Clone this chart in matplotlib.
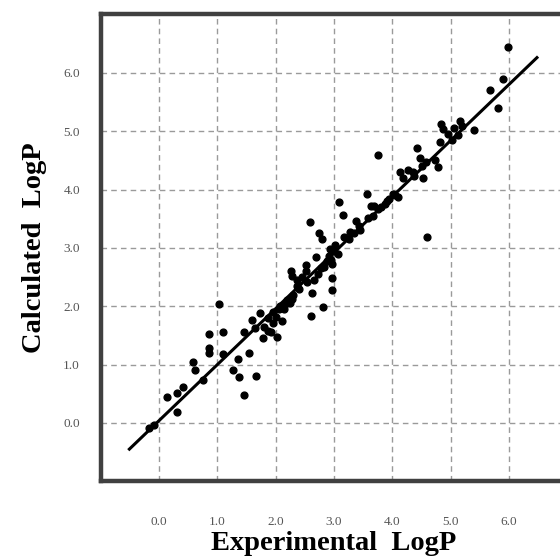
import numpy as np
import matplotlib.pyplot as plt

plt.rcParams['font.family'] = ['Liberation Serif', 'DejaVu Serif']

# experimental vs calculated logP
exp_logp = [
    -0.18, -0.08, 0.14, 0.31, 0.41, 0.30, 0.58, 0.62, 0.76, 0.86,
    1.02, 1.10, 0.86, 0.86, 1.10, 1.35, 1.27, 1.37, 1.45, 1.55,
    1.66, 1.45, 1.59, 1.73, 1.87, 1.87, 2.02, 1.78, 1.96, 2.10,
    2.07, 2.19, 2.28, 1.64, 1.92, 2.61, 2.81, 2.62, 2.97, 2.27,
    2.28, 2.37, 2.36, 2.52, 2.53, 2.69, 2.72, 2.83, 2.97, 2.97,
    2.66, 2.78, 2.58, 2.75, 2.79, 2.93, 2.92, 3.06, 3.17, 3.28,
    3.42, 3.08, 3.15, 3.38, 3.57, 3.69, 3.76, 4.43, 4.47, 4.58,
    4.13, 4.27, 4.18, 4.37, 4.53, 4.01, 4.10, 3.95, 3.87, 3.75,
    3.64, 3.66, 3.58, 4.73, 4.79, 4.84, 4.87, 5.16, 5.19, 5.40,
    5.13, 5.02, 4.82, 5.68, 5.99, 5.90, 5.82, 4.60, 1.95, 2.05,
    2.12, 2.20, 2.25, 2.15, 2.00, 2.30, 2.88, 3.00, 3.02, 2.95,
    3.25, 3.35, 3.45, 3.80, 3.90, 4.05, 4.35, 4.50, 4.95, 5.05,
    2.52, 2.40, 1.80, 2.45,
]
calc_logp = [
    -0.08, -0.03, 0.45, 0.52, 0.61, 0.19, 1.04, 0.91, 0.74, 1.52,
    2.03, 1.56, 1.29, 1.20, 1.18, 1.10, 0.91, 0.79, 0.47, 1.19,
    0.80, 1.56, 1.77, 1.88, 1.79, 1.57, 1.48, 1.45, 1.71, 1.74,
    2.00, 2.06, 2.12, 1.62, 1.56, 1.83, 1.99, 2.22, 2.27, 2.60,
    2.51, 2.45, 2.34, 2.70, 2.41, 2.85, 2.56, 2.68, 2.73, 2.48,
    2.45, 2.65, 3.45, 3.25, 3.16, 2.98, 2.86, 2.90, 3.19, 3.27,
    3.38, 3.79, 3.57, 3.46, 3.93, 3.71, 4.60, 4.72, 4.54, 4.48,
    4.30, 4.33, 4.20, 4.23, 4.19, 3.92, 3.87, 3.84, 3.75, 3.66,
    3.72, 3.55, 3.52, 4.50, 4.38, 5.12, 5.03, 5.18, 5.09, 5.02,
    4.94, 4.85, 4.82, 5.71, 6.45, 5.90, 5.40, 3.19, 1.90, 1.95,
    2.02, 2.10, 2.05, 1.95, 1.82, 2.20, 2.78, 2.95, 3.05, 2.80,
    3.15, 3.25, 3.30, 3.70, 3.80, 3.90, 4.30, 4.40, 4.95, 5.05,
    2.60, 2.30, 1.65, 2.50,
]

# regression line
slope, intercept = 0.96, 0.04
line_x = np.array([-0.51, 6.48])
ticks = [0.0, 1.0, 2.0, 3.0, 4.0, 5.0, 6.0]

fig = plt.figure(figsize=(5.6, 5.57), dpi=100)
ax = fig.add_axes([0.180, 0.136, 0.833, 0.838])

ax.scatter(exp_logp, calc_logp, s=24, color='black', zorder=3)
ax.plot(line_x, slope * line_x + intercept, color='black', lw=2.2, zorder=4)

ax.set_xlim(-1, 7)
ax.set_ylim(-1, 7)
ax.set_xticks(ticks)
ax.set_yticks(ticks)
ax.set_xticklabels([f"{t:.1f}" for t in ticks])
ax.set_yticklabels([f"{t:.1f}" for t in ticks])
ax.tick_params(axis='x', length=0, pad=25, labelsize=9.5, labelcolor='#555555')
ax.tick_params(axis='y', length=0, pad=15, labelsize=9.5, labelcolor='#555555')

ax.grid(True, color='#9a9a9a', linestyle=(0, (4, 3)), linewidth=1.0)
ax.set_axisbelow(True)
for sp in ax.spines.values():
    sp.set_linewidth(3.2)
    sp.set_color('#404040')

ax.set_xlabel("Experimental  LogP", fontsize=20.5, fontweight='bold', labelpad=2)
ax.set_ylabel("Calculated  LogP", fontsize=20.5, fontweight='bold', labelpad=12)

fig.savefig("out.png", dpi=100)
